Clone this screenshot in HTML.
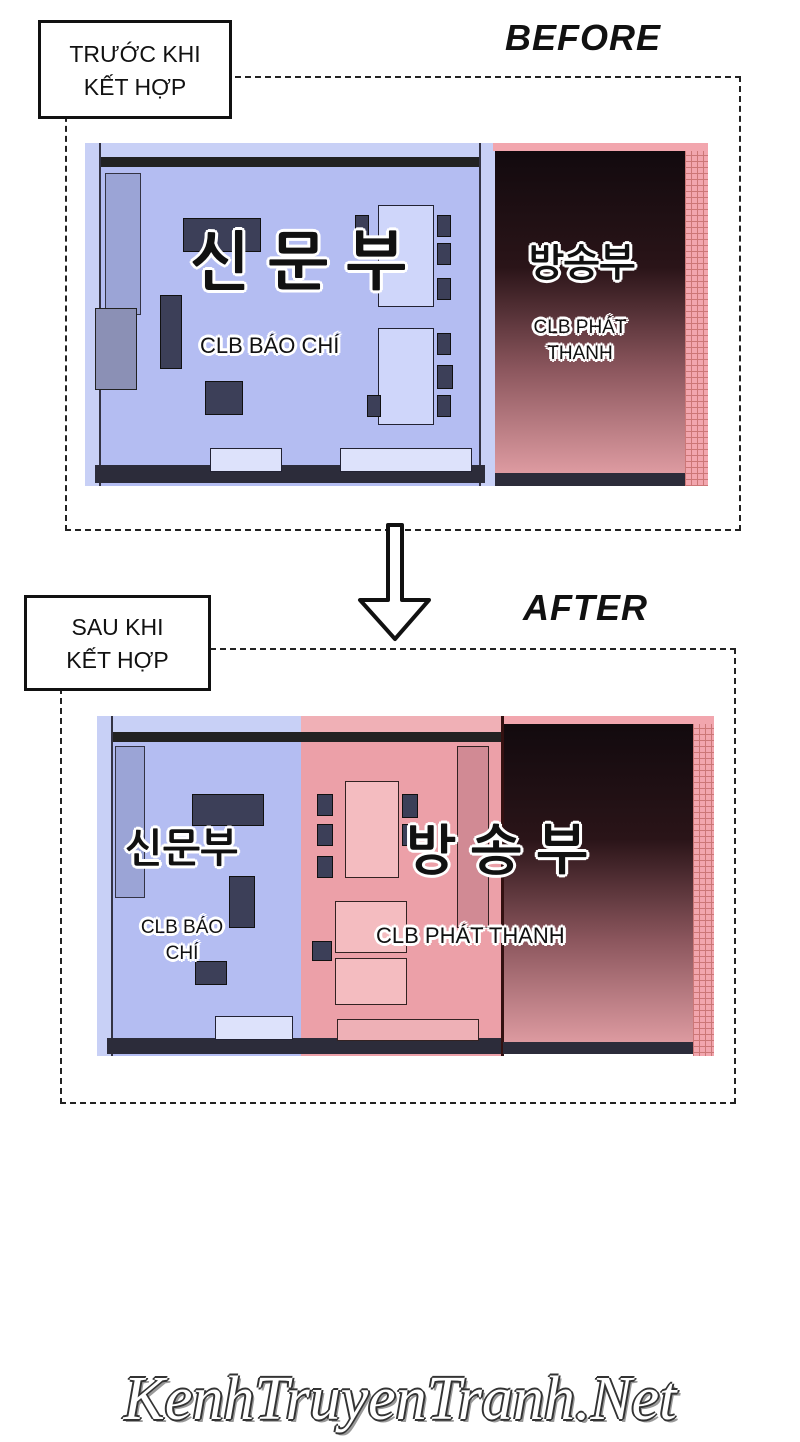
<!DOCTYPE html>
<html><head><meta charset="utf-8"><style>
body{margin:0;background:#fff;}
#p{position:relative;width:800px;height:1442px;overflow:hidden;background:#fff;font-family:"Liberation Sans","Noto Sans CJK KR",sans-serif;}
.a{position:absolute;}
.box{position:absolute;border:3px solid #111;background:#fff;font-size:23px;line-height:33px;text-align:center;color:#111;}
.dash{position:absolute;border:2px dashed #222;}
.title{position:absolute;font-style:italic;font-weight:bold;font-size:36px;color:#111;letter-spacing:1px;}
.ko{position:absolute;font-family:"NanumGothic","Noto Sans CJK KR",sans-serif;font-weight:bold;color:#111;
text-shadow:3px 0 #fff,-3px 0 #fff,0 3px #fff,0 -3px #fff,2px 2px #fff,-2px -2px #fff,2px -2px #fff,-2px 2px #fff;}
.lb{position:absolute;color:#111;font-size:19px;text-align:center;line-height:26px;
text-shadow:3px 0 #fff,-3px 0 #fff,0 3px #fff,0 -3px #fff,2px 2px #fff,-2px -2px #fff,2px -2px #fff,-2px 2px #fff;}
.blue{background:#b4bdf2;}
.dk{background:#2c2c3a;}
.f{position:absolute;background:#3c3f58;border:1px solid #111;}
.lt{position:absolute;background:#cfd6fa;border:1px solid #223;}
.pinkr{background:linear-gradient(#120a0e 0%,#2a1418 35%,#8a555c 65%,#e6a2a8 100%);}
.grid{background-color:#f2a6ae;background-image:linear-gradient(#c77 1px,transparent 1px),linear-gradient(90deg,#c77 1px,transparent 1px);background-size:6px 6px;}
</style></head><body><div id="p">

<!-- BEFORE -->
<div class="dash" style="left:65px;top:76px;width:672px;height:451px;"></div>
<div class="box" style="left:38px;top:20px;width:194px;height:99px;padding-top:15px;box-sizing:border-box;">TRƯỚC KHI<br>KẾT HỢP</div>
<div class="title" style="left:505px;top:17px;">BEFORE</div>

<div class="a" style="left:85px;top:143px;width:623px;height:343px;background:#fff;">
  <div class="a blue" style="left:0;top:0;width:408px;height:343px;"></div>
  <div class="a" style="left:0;top:0;width:408px;height:14px;background:#c8d0f6;border-bottom:10px solid #222;"></div>
  <div class="a" style="left:0;top:0;width:14px;height:343px;background:#c8d0f6;border-right:2px solid #334;"></div>
  <div class="a" style="left:394px;top:0;width:14px;height:343px;background:#c8d0f6;border-left:2px solid #334;"></div>
  <div class="a dk" style="left:10px;top:322px;width:390px;height:18px;"></div>
  <div class="a" style="left:20px;top:30px;width:34px;height:140px;background:#9ba4d6;border:1px solid #334;"></div>
  <div class="a" style="left:10px;top:165px;width:40px;height:80px;background:#8b90b5;border:1px solid #222;"></div>
  <div class="f" style="left:98px;top:75px;width:76px;height:32px;"></div>
  <div class="f" style="left:75px;top:152px;width:20px;height:72px;"></div>
  <div class="f" style="left:120px;top:238px;width:36px;height:32px;"></div>
  <div class="lt" style="left:293px;top:62px;width:54px;height:100px;"></div>
  <div class="lt" style="left:293px;top:185px;width:54px;height:95px;"></div>
  <div class="f" style="left:270px;top:72px;width:12px;height:20px;"></div>
  <div class="f" style="left:352px;top:72px;width:12px;height:20px;"></div>
  <div class="f" style="left:352px;top:100px;width:12px;height:20px;"></div>
  <div class="f" style="left:352px;top:135px;width:12px;height:20px;"></div>
  <div class="f" style="left:352px;top:190px;width:12px;height:20px;"></div>
  <div class="f" style="left:352px;top:222px;width:14px;height:22px;"></div>
  <div class="f" style="left:352px;top:252px;width:12px;height:20px;"></div>
  <div class="f" style="left:282px;top:252px;width:12px;height:20px;"></div>
  <div class="a" style="left:125px;top:305px;width:70px;height:22px;background:#dde2fb;border:1px solid #223;"></div>
  <div class="a" style="left:255px;top:305px;width:130px;height:22px;background:#dde2fb;border:1px solid #223;"></div>
  <div class="a pinkr" style="left:410px;top:8px;width:190px;height:333px;"></div>
  <div class="a grid" style="left:600px;top:0;width:23px;height:343px;"></div>
  <div class="a" style="left:408px;top:0;width:215px;height:8px;background:#f2a6ae;"></div>
  <div class="a dk" style="left:410px;top:330px;width:190px;height:13px;"></div>
</div>
<div class="ko" style="left:190px;top:230px;font-size:64px;letter-spacing:0px;">신 문 부</div>
<div class="lb" style="left:200px;top:333px;font-size:22px;">CLB BÁO CHÍ</div>
<div class="ko" style="left:528px;top:244px;font-size:38px;">방송부</div>
<div class="lb" style="left:525px;top:315px;width:110px;">CLB PHÁT<br>THANH</div>

<!-- arrow -->
<svg class="a" style="left:355px;top:522px;" width="80" height="122" viewBox="0 0 80 122">
<path d="M33 3 L47 3 L47 78 L74 78 L40 117 L5 78 L33 78 Z" fill="#fff" stroke="#111" stroke-width="4" stroke-linejoin="round"/></svg>

<!-- AFTER -->
<div class="dash" style="left:60px;top:648px;width:672px;height:452px;"></div>
<div class="box" style="left:24px;top:595px;width:187px;height:96px;padding-top:13px;box-sizing:border-box;">SAU KHI<br>KẾT HỢP</div>
<div class="title" style="left:523px;top:587px;">AFTER</div>

<div class="a" style="left:97px;top:716px;width:617px;height:340px;background:#fff;">
  <div class="a blue" style="left:0;top:0;width:204px;height:340px;"></div>
  <div class="a" style="left:204px;top:0;width:200px;height:340px;background:#eca0a8;"></div>
  <div class="a" style="left:0;top:0;width:404px;height:16px;background:#c8d0f6;border-bottom:10px solid #222;"></div>
  <div class="a" style="left:204px;top:0;width:200px;height:16px;background:#f0b0b6;"></div>
  <div class="a" style="left:0;top:0;width:14px;height:340px;background:#c8d0f6;border-right:2px solid #334;"></div>
  <div class="a dk" style="left:10px;top:322px;width:394px;height:16px;"></div>
  <div class="a" style="left:18px;top:30px;width:28px;height:150px;background:#9ba4d6;border:1px solid #334;"></div>
  <div class="f" style="left:95px;top:78px;width:70px;height:30px;"></div>
  <div class="f" style="left:132px;top:160px;width:24px;height:50px;"></div>
  <div class="f" style="left:98px;top:245px;width:30px;height:22px;"></div>
  <div class="a" style="left:118px;top:300px;width:76px;height:22px;background:#dde2fb;border:1px solid #223;"></div>
  <div class="a" style="left:248px;top:65px;width:52px;height:95px;background:#f4bcc0;border:1px solid #322;"></div>
  <div class="a" style="left:238px;top:185px;width:70px;height:50px;background:#f4bcc0;border:1px solid #322;"></div>
  <div class="a" style="left:238px;top:242px;width:70px;height:45px;background:#f4bcc0;border:1px solid #322;"></div>
  <div class="f" style="left:220px;top:78px;width:14px;height:20px;"></div>
  <div class="f" style="left:220px;top:108px;width:14px;height:20px;"></div>
  <div class="f" style="left:220px;top:140px;width:14px;height:20px;"></div>
  <div class="f" style="left:305px;top:78px;width:14px;height:22px;"></div>
  <div class="f" style="left:305px;top:108px;width:14px;height:20px;"></div>
  <div class="f" style="left:215px;top:225px;width:18px;height:18px;"></div>
  <div class="a" style="left:240px;top:303px;width:140px;height:20px;background:#eeb0b6;border:1px solid #322;"></div>
  <div class="a" style="left:360px;top:30px;width:30px;height:180px;background:#d18a94;border:1px solid #322;"></div>
  <div class="a pinkr" style="left:406px;top:8px;width:190px;height:330px;"></div>
  <div class="a grid" style="left:596px;top:0;width:21px;height:340px;"></div>
  <div class="a" style="left:404px;top:0;width:213px;height:8px;background:#f2a6ae;"></div>
  <div class="a" style="left:404px;top:0;width:3px;height:340px;background:#311;"></div>
  <div class="a dk" style="left:406px;top:326px;width:190px;height:12px;"></div>
</div>
<div class="ko" style="left:125px;top:828px;font-size:40px;">신문부</div>
<div class="lb" style="left:128px;top:915px;width:108px;">CLB BÁO<br>CHÍ</div>
<div class="ko" style="left:405px;top:825px;font-size:54px;letter-spacing:0;">방 송 부</div>
<div class="lb" style="left:376px;top:923px;font-size:22px;">CLB PHÁT THANH</div>

<!-- watermark -->
<div class="a" style="left:80px;top:1364px;width:640px;text-align:center;font-family:'Liberation Serif',serif;font-style:italic;font-size:62px;color:#fff;
text-shadow:2px 0 #333,-2px 0 #333,0 2px #333,0 -2px #333,1px 1px #333,-1px -1px #333,3px 3px #999;">KenhTruyenTranh.Net</div>
</div></body></html>
